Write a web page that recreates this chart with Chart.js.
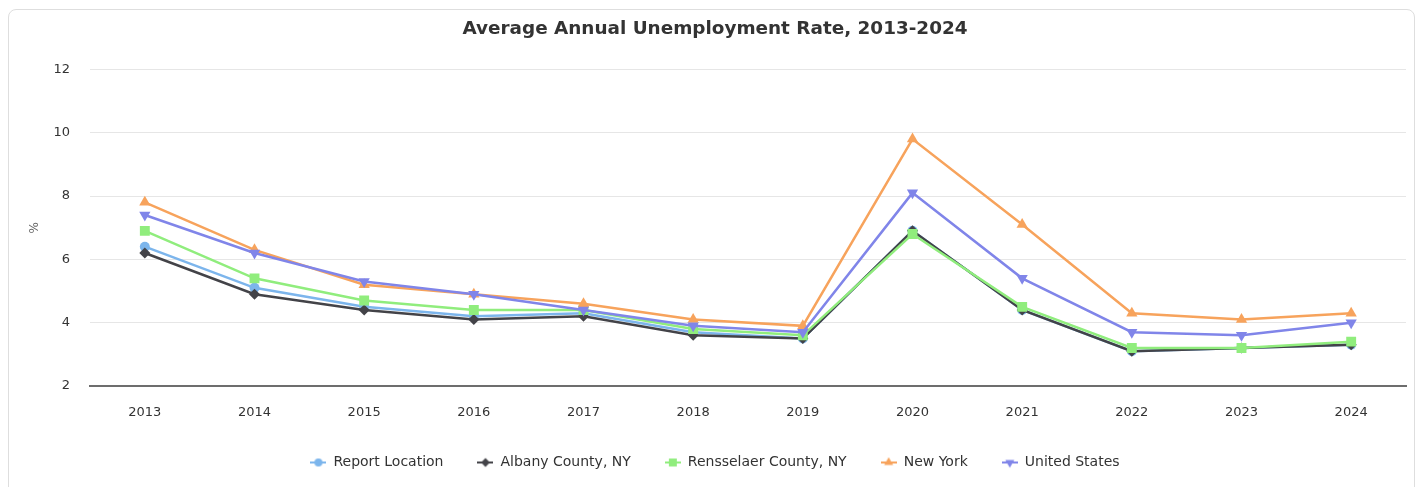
<!DOCTYPE html>
<html>
<head>
<meta charset="utf-8">
<title>Average Annual Unemployment Rate, 2013-2024</title>
<script src="https://cdn.jsdelivr.net/npm/chart.js@4/dist/chart.umd.min.js"></script>
<style>
  html, body { margin: 0; padding: 0; background: #fff; overflow: hidden; }
  #frame {
    position: absolute; left: 8px; top: 9px; width: 1407px; height: 520px;
    border: 1px solid #dedede; border-radius: 8px; box-sizing: border-box;
  }
  #chart { position: absolute; left: 0; top: 0; }
</style>
</head>
<body>
<div id="frame"></div>
<canvas id="chart" width="1418" height="487"></canvas>
<script>
// Annual average unemployment rate (%) by area
const years = ['2013', '2014', '2015', '2016', '2017', '2018', '2019', '2020', '2021', '2022', '2023', '2024'];
const reportLocation = [6.4, 5.1, 4.5, 4.2, 4.3, 3.7, 3.5, 6.9, 4.4, 3.1, 3.2, 3.3];
const albanyCounty   = [6.2, 4.9, 4.4, 4.1, 4.2, 3.6, 3.5, 6.9, 4.4, 3.1, 3.2, 3.3];
const rensselaerCounty = [6.9, 5.4, 4.7, 4.4, 4.4, 3.8, 3.6, 6.8, 4.5, 3.2, 3.2, 3.4];
const newYork        = [7.8, 6.3, 5.2, 4.9, 4.6, 4.1, 3.9, 9.8, 7.1, 4.3, 4.1, 4.3];
const unitedStates   = [7.4, 6.2, 5.3, 4.9, 4.4, 3.9, 3.7, 8.1, 5.4, 3.7, 3.6, 4.0];
const yTicks = [2, 4, 6, 8, 10, 12];

const FONT = "'DejaVu Sans', sans-serif";

const seriesDefs = [
  { label: 'Report Location',       data: reportLocation,   color: '#7cb5ec', style: 'circle',   radius: 5,   rotation: 0 },
  { label: 'Albany County, NY',     data: albanyCounty,     color: '#434348', style: 'rectRot',  radius: 5.5, rotation: 0 },
  { label: 'Rensselaer County, NY', data: rensselaerCounty, color: '#90ed7d', style: 'rect',     radius: 7,   rotation: 0 },
  { label: 'New York',              data: newYork,          color: '#f7a35c', style: 'triangle', radius: 6.5, rotation: 0 },
  { label: 'United States',         data: unitedStates,     color: '#8085e9', style: 'triangle', radius: 6.5, rotation: 180 }
];

// later series are painted over earlier ones
const datasets = seriesDefs.map((s, i) => ({
  label: s.label,
  data: s.data,
  borderColor: s.color,
  backgroundColor: s.color,
  borderWidth: 2.5,
  pointStyle: s.style,
  pointRadius: s.radius,
  pointHoverRadius: s.radius,
  pointRotation: s.rotation,
  pointBackgroundColor: s.color,
  pointBorderWidth: 0,
  tension: 0,
  order: seriesDefs.length - i
}));

// legend symbol: short line with the series marker on it
function legendSymbol(s) {
  const c = document.createElement('canvas');
  c.width = 16; c.height = 12;
  const ctx = c.getContext('2d');
  ctx.strokeStyle = s.color;
  ctx.lineWidth = 2;
  ctx.beginPath();
  ctx.moveTo(0, 6);
  ctx.lineTo(16, 6);
  ctx.stroke();
  ctx.fillStyle = s.color;
  Chart.helpers.drawPoint(ctx, { pointStyle: s.style, radius: s.radius * 0.8, rotation: s.rotation, borderWidth: 0 }, 8, 6);
  return c;
}

new Chart(document.getElementById('chart'), {
  type: 'line',
  data: { labels: years, datasets },
  options: {
    responsive: false,
    animation: false,
    events: [],
    layout: { padding: { left: 24, right: 12, top: 0, bottom: 7.5 } },
    plugins: {
      title: {
        display: true,
        text: 'Average Annual Unemployment Rate, 2013-2024',
        color: '#333333',
        font: { family: FONT, size: 18.4, weight: 'bold' },
        padding: { top: 18.5, bottom: 28.8 }
      },
      legend: {
        position: 'bottom',
        labels: {
          color: '#333333',
          font: { family: FONT, size: 14 },
          usePointStyle: true,
          pointStyleWidth: 16,
          padding: 34,
          generateLabels: (chart) => seriesDefs.map((s, i) => ({
            text: s.label,
            fillStyle: s.color,
            strokeStyle: s.color,
            lineWidth: 0,
            pointStyle: legendSymbol(s),
            hidden: false,
            datasetIndex: i,
            fontColor: '#333333'
          }))
        }
      },
      tooltip: { enabled: false }
    },
    scales: {
      x: {
        offset: true,
        grid: { display: false, drawTicks: false },
        border: { display: true, color: '#6d6d6d', width: 2 },
        ticks: { color: '#333333', font: { family: FONT, size: 13 }, padding: 19, maxRotation: 0 },
        afterFit: (scale) => { scale.height = 35.5; }
      },
      y: {
        min: 2,
        max: 12,
        afterBuildTicks: (scale) => { scale.ticks = yTicks.map(v => ({ value: v })); },
        grid: { color: '#e6e6e6', lineWidth: 1, drawTicks: false },
        border: { display: false },
        ticks: { color: '#333333', font: { family: FONT, size: 13 }, padding: 20 },
        title: {
          display: true,
          text: '%',
          color: '#666666',
          font: { family: FONT, size: 12 },
          padding: { top: 4, bottom: 4 }
        },
        afterFit: (scale) => { scale.width = 66; }
      }
    }
  }
});
</script>
</body>
</html>
